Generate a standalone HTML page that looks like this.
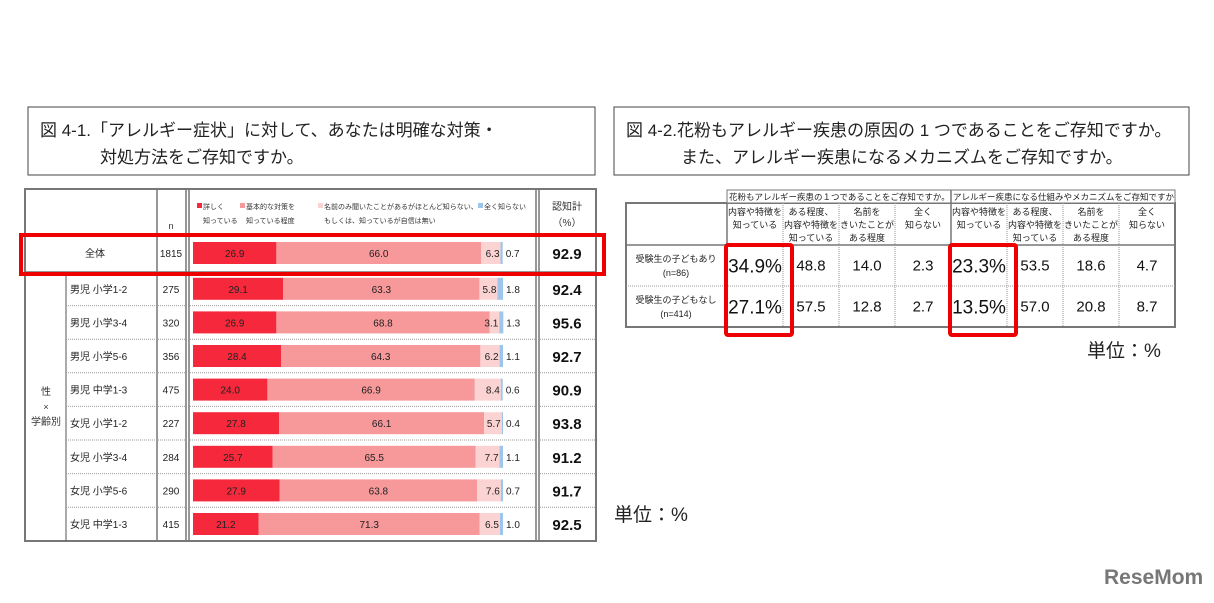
<!DOCTYPE html>
<html><head><meta charset="utf-8">
<style>
body{margin:0;width:1214px;height:598px;background:#fff;overflow:hidden;font-family:"Liberation Sans","Noto Sans CJK JP",sans-serif;}
svg text{font-family:"Liberation Sans","Noto Sans CJK JP",sans-serif;}
</style></head><body>
<svg id="c" width="1214" height="598" xmlns="http://www.w3.org/2000/svg">
<rect x="28" y="107" width="567" height="68" fill="#fff" stroke="#444" stroke-width="1"/>
<text x="40" y="136" font-size="17" fill="#222">図 4-1.「アレルギー症状」に対して、あなたは明確な対策・</text>
<text x="100" y="163" font-size="17" fill="#222">対処方法をご存知ですか。</text>
<rect x="614" y="107" width="575" height="68" fill="#fff" stroke="#444" stroke-width="1"/>
<text x="626" y="136" font-size="17" fill="#222">図 4-2.花粉もアレルギー疾患の原因の 1 つであることをご存知ですか。</text>
<text x="681" y="163" font-size="17" fill="#222">また、アレルギー疾患になるメカニズムをご存知ですか。</text>
<text x="614" y="521" font-size="19" fill="#222">単位：%</text>
<text x="1087" y="357" font-size="19" fill="#222">単位：%</text>
<text x="1104" y="584" font-size="21" font-weight="bold" fill="#777">ReseMom</text>
<g id="L"></g><g id="R"></g>
</svg>
<script>
const rowLabels=["全体","男児 小学1-2","男児 小学3-4","男児 小学5-6","男児 中学1-3","女児 小学1-2","女児 小学3-4","女児 小学5-6","女児 中学1-3"];
const nValues=[1815,275,320,356,475,227,284,290,415];
const detailed=[26.9,29.1,26.9,28.4,24.0,27.8,25.7,27.9,21.2];
const basic=[66.0,63.3,68.8,64.3,66.9,66.1,65.5,63.8,71.3];
const nameOnly=[6.3,5.8,3.1,6.2,8.4,5.7,7.7,7.6,6.5];
const unknown=[0.7,1.8,1.3,1.1,0.6,0.4,1.1,0.7,1.0];
const totals=[92.9,92.4,95.6,92.7,90.9,93.8,91.2,91.7,92.5];
const rCols=["内容や特徴を|知っている","ある程度、|内容や特徴を|知っている","名前を|きいたことが|ある程度","全く|知らない"];
const rRows=["受験生の子どもあり|(n=86)","受験生の子どもなし|(n=414)"];
const pollen=[[34.9,48.8,14.0,2.3],[27.1,57.5,12.8,2.7]];
const mech=[[23.3,53.5,18.6,4.7],[13.5,57.0,20.8,8.7]];
const NS="http://www.w3.org/2000/svg";
function mk(p,t,a,txt){const e=document.createElementNS(NS,t);for(const k in a)e.setAttribute(k,a[k]);if(txt!=null)e.textContent=txt;p.appendChild(e);return e;}
const L=document.getElementById('L'),R=document.getElementById('R');
const x0=193,W=310;const xs=v=>x0+v/100*W;
function rowTop(i){return i==0?234:272+(i-1)*33.6;}
function rowH(i){return i==0?38:33.6;}
let t=mk(L,'rect',{x:25,y:189,width:571,height:352,fill:'#fff',stroke:'#777','stroke-width':2});


[[157,189,541],[186,189,541],[189,189,541],[536,189,541],[539,189,541]].forEach(l=>mk(L,'line',{x1:l[0],y1:l[1],x2:l[0],y2:l[2],stroke:'#777','stroke-width':1.5}));
mk(L,'line',{x1:66,y1:272,x2:66,y2:541,stroke:'#555','stroke-width':1});
mk(L,'line',{x1:25,y1:234,x2:596,y2:234,stroke:'#777','stroke-width':1.5});
mk(L,'line',{x1:25,y1:272,x2:596,y2:272,stroke:'#777','stroke-width':1.5});
for(let i=2;i<9;i++){mk(L,'line',{x1:66,y1:rowTop(i),x2:596,y2:rowTop(i),stroke:'#999','stroke-width':1,'stroke-dasharray':'1,1'});}
mk(L,'text',{x:171,y:229,'font-size':9,'text-anchor':'middle',fill:'#333'},'n');
mk(L,'text',{x:567,y:210,'font-size':10,'text-anchor':'middle',fill:'#333'},'認知計');
mk(L,'text',{x:567,y:226,'font-size':10,'text-anchor':'middle',fill:'#333'},'（%）');
const legs=[["#f5283c",197,"詳しく","知っている"],["#f7989a",240,"基本的な対策を","知っている程度"],["#fbd3d3",318,"名前のみ聞いたことがあるがほとんど知らない、","もしくは、知っているが自信は無い"],["#9ec5ea",478,"全く知らない",""]];
legs.forEach(g=>{const r=mk(L,'rect',{x:g[1],y:203,width:5,height:5,fill:g[0]});


mk(L,'text',{x:g[1]+6,y:209,'font-size':7,fill:'#333'},g[2]);mk(L,'text',{x:g[1]+6,y:223,'font-size':7,fill:'#333'},g[3]);});
mk(L,'text',{x:46,y:395,'font-size':10,'text-anchor':'middle',fill:'#333'},'性');
mk(L,'text',{x:46,y:410,'font-size':9,'text-anchor':'middle',fill:'#333'},'×');
mk(L,'text',{x:46,y:425,'font-size':10,'text-anchor':'middle',fill:'#333'},'学齢別');
rowLabels.forEach((lab,i)=>{
 const top=rowTop(i),h=rowH(i),cy=top+h/2,bh=22,by=cy-bh/2;
 const lt=mk(L,'text',{x:i==0?95:70,y:cy+4,'font-size':10,'text-anchor':i==0?'middle':'start',fill:'#222'},lab);
 
 
 mk(L,'text',{x:171,y:cy+4,'font-size':10,'text-anchor':'middle',fill:'#222'},nValues[i]);
 const segs=[[detailed[i],'#f5283c'],[basic[i],'#f7989a'],[nameOnly[i],'#fbd3d3'],[unknown[i],'#9ec5ea']];
 let acc=0;
 segs.forEach((s,k)=>{const a=xs(acc),b=xs(acc+s[0]);
  const r=mk(L,'rect',{x:a,y:by,width:b-a,height:bh,fill:s[1]});
  
  
  if(k<2)mk(L,'text',{x:(a+b)/2,y:cy+4,'font-size':10,'text-anchor':'middle',fill:'#222'},s[0].toFixed(1));
  else if(k==2)mk(L,'text',{x:b-1,y:cy+4,'font-size':10,'text-anchor':'end',fill:'#222'},s[0].toFixed(1));
  else mk(L,'text',{x:b+3,y:cy+4,'font-size':10,fill:'#222'},s[0].toFixed(1));
  acc+=s[0];});
 const tt=mk(L,'text',{x:567,y:cy+6,'font-size':15,'font-weight':'bold','text-anchor':'middle',fill:'#111'},totals[i].toFixed(1));
 
 
});
t=mk(L,'rect',{x:21,y:235,width:583,height:39,fill:'none',stroke:'#e00','stroke-width':4});


const rx0=727,cw=56,r1=245,rh=41;
t=mk(R,'rect',{x:626,y:203,width:549,height:124,fill:'#fff',stroke:'#777','stroke-width':2});


mk(R,'rect',{x:727,y:190,width:448,height:13,fill:'#fff',stroke:'#777','stroke-width':1});
mk(R,'line',{x1:951,y1:190,x2:951,y2:327,stroke:'#777','stroke-width':1.5});
mk(R,'line',{x1:727,y1:203,x2:727,y2:327,stroke:'#777','stroke-width':1.5});
mk(R,'line',{x1:626,y1:r1,x2:1175,y2:r1,stroke:'#777','stroke-width':1.5});
mk(R,'line',{x1:626,y1:r1+rh,x2:1175,y2:r1+rh,stroke:'#999','stroke-dasharray':'1,1'});
mk(R,'text',{x:729,y:200,'font-size':8.5,fill:'#222'},'花粉もアレルギー疾患の１つであることをご存知ですか。');
mk(R,'text',{x:953,y:200,'font-size':8.5,fill:'#222'},'アレルギー疾患になる仕組みやメカニズムをご存知ですか');
for(let g=0;g<2;g++){const data=g?mech:pollen;
 for(let c=0;c<4;c++){const cx=rx0+g*224+c*cw;
  if(c>0)mk(R,'line',{x1:cx,y1:203,x2:cx,y2:327,stroke:'#999','stroke-dasharray':'1,1'});
  rCols[c].split('|').forEach((s,j)=>mk(R,'text',{x:cx+cw/2,y:215+j*13,'font-size':9,'text-anchor':'middle',fill:'#222'},s));
  for(let r=0;r<2;r++){const v=data[r][c];
   const tv=mk(R,'text',{x:cx+cw/2,y:r1+r*rh+rh/2+(c==0?7:5),'font-size':c==0?19:15,'text-anchor':'middle',fill:'#111'},c==0?v.toFixed(1)+'%':v.toFixed(1));
   
   }
 }
 const hb=mk(R,'rect',{x:726+g*224,y:245,width:66,height:90,rx:2,fill:'none',stroke:'#e00','stroke-width':4});
 
 
}
rRows.forEach((s,r)=>s.split('|').forEach((p,j)=>mk(R,'text',{x:676,y:r1+r*rh+17+j*14,'font-size':9,'text-anchor':'middle',fill:'#222'},p)));
</script>
</body></html>
